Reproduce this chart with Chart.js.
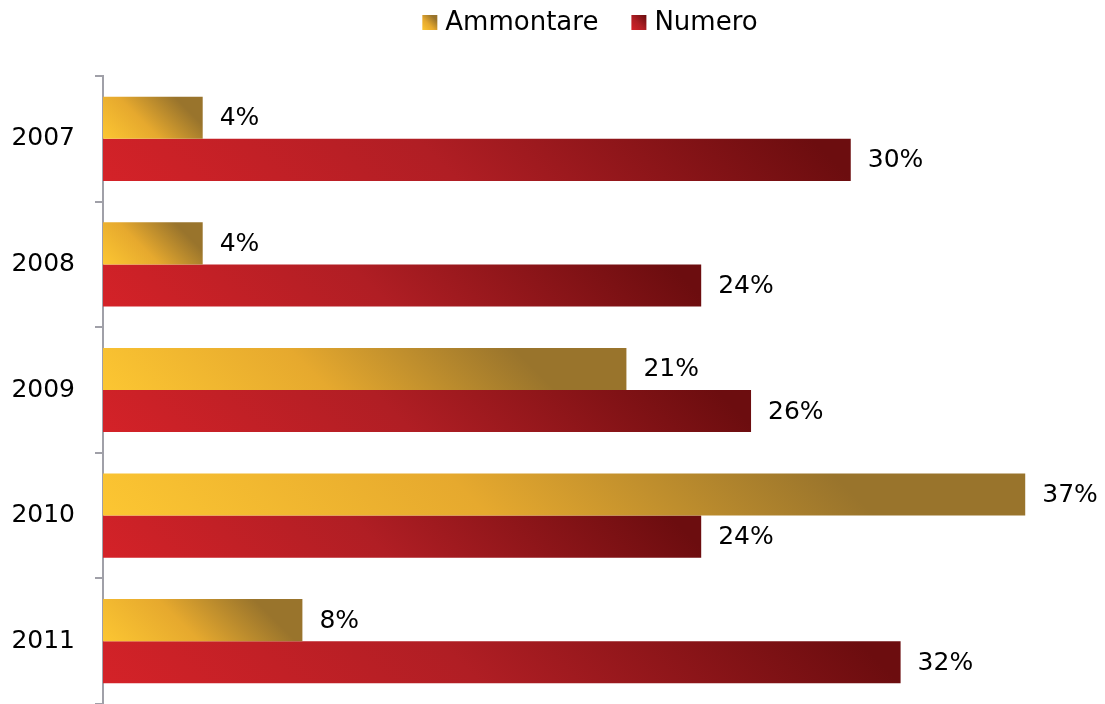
<!DOCTYPE html>
<html>
<head>
<meta charset="utf-8">
<script src="https://cdn.jsdelivr.net/npm/chart.js@4/dist/chart.umd.min.js"></script>
<style>
  html, body { margin: 0; padding: 0; background: #fff; }
  canvas { display: block; }
</style>
</head>
<body>
<canvas id="myChart" width="1105" height="704"></canvas>
<script>
let years = ['2007', '2008', '2009', '2010', '2011'];
let ammontare = [4, 4, 21, 37, 8];
let numero = [30, 24, 26, 24, 32];
let seriesNames = ['Ammontare', 'Numero'];

// gradient stops for each series (light bottom-left -> dark top-right)
let stops = [
    [[0, '#fcc632'], [0.4, '#e6a92e'], [0.8, '#99742c'], [1, '#99742c']],
    [[0, '#d42228'], [0.45, '#b01e24'], [0.95, '#6c0d0f'], [1, '#6c0d0f']]
];
let flatColor = ['#d9a02e', '#a01b20'];
let font = '"DejaVu Sans", Verdana, sans-serif';

// 45 degree gradient running from the bottom-left to the top-right corner
function makeGradient(ctx, left, top, right, bottom, s) {
    let d = ((right - left) + (bottom - top)) / 2;
    let g = ctx.createLinearGradient(left, bottom, left + d, bottom - d);
    s.forEach(p => g.addColorStop(p[0], p[1]));
    return g;
}

// each bar gets its own gradient sized to its box
let barGradients = {
    id: 'barGradients',
    beforeDatasetsDraw(chart) {
        chart.data.datasets.forEach((ds, i) => {
            chart.getDatasetMeta(i).data.forEach(el => {
                let left = Math.min(el.base, el.x), right = Math.max(el.base, el.x);
                let top = el.y - el.height / 2, bottom = el.y + el.height / 2;
                let g = makeGradient(chart.ctx, left, top, right, bottom, stops[i]);
                el.options = Object.assign({}, el.options, { backgroundColor: g });
            });
        });
    }
};

// percentage labels at the end of the bars
let valueLabels = {
    id: 'valueLabels',
    afterDatasetsDraw(chart) {
        let ctx = chart.ctx;
        ctx.save();
        ctx.font = '25px ' + font;
        ctx.fillStyle = '#000';
        ctx.textAlign = 'left';
        ctx.textBaseline = 'middle';
        chart.data.datasets.forEach((ds, i) => {
            chart.getDatasetMeta(i).data.forEach((el, j) => {
                ctx.fillText(ds.data[j] + '%', el.x + 17, el.y + 1);
            });
        });
        ctx.restore();
    }
};

// legend on top with small gradient squares
let topLegend = {
    id: 'topLegend',
    afterDraw(chart) {
        let ctx = chart.ctx;
        ctx.save();
        ctx.font = '26px ' + font;
        ctx.textBaseline = 'middle';
        let box = 15, gap = 8, spacing = 33;
        let widths = seriesNames.map(n => box + gap + ctx.measureText(n).width);
        let total = widths.reduce((a, b) => a + b, 0) + spacing * (widths.length - 1);
        let x = 590 - total / 2, y = 22;
        seriesNames.forEach((n, i) => {
            ctx.fillStyle = makeGradient(ctx, x, y - 7, x + box, y + 8, stops[i]);
            ctx.fillRect(x, y - 7, box, box);
            ctx.fillStyle = '#000';
            ctx.fillText(n, x + box + gap, y + 1);
            x += widths[i] + spacing;
        });
        ctx.restore();
    }
};

let ctx = document.getElementById('myChart').getContext('2d');

let myChart = new Chart(ctx, {
    type: 'bar',
    data: {
        labels: years,
        datasets: [{
            label: seriesNames[0],
            data: ammontare,
            backgroundColor: flatColor[0]
        }, {
            label: seriesNames[1],
            data: numero,
            backgroundColor: flatColor[1]
        }]
    },
    options: {
        indexAxis: 'y',
        responsive: false,
        animation: false,
        categoryPercentage: 0.67,
        barPercentage: 1,
        layout: {
            padding: { top: 76, right: 5, bottom: 0, left: 0 }
        },
        scales: {
            x: {
                display: false,
                min: 0,
                max: 40
            },
            y: {
                afterFit(scale) {
                    scale.width = 103;
                    // let the axis run down to the bottom edge
                    scale.paddingTop = 0;
                    scale.paddingBottom = 0;
                },
                grid: {
                    drawOnChartArea: false,
                    offset: true,
                    tickLength: 8,
                    color: '#a0a0a8',
                    lineWidth: 2
                },
                border: { color: '#a0a0a8', width: 2 },
                ticks: {
                    color: '#000',
                    padding: 20,
                    font: { family: font, size: 25 }
                }
            }
        },
        plugins: {
            legend: { display: false },
            tooltip: { enabled: false }
        }
    },
    plugins: [barGradients, valueLabels, topLegend]
});
</script>
</body>
</html>
